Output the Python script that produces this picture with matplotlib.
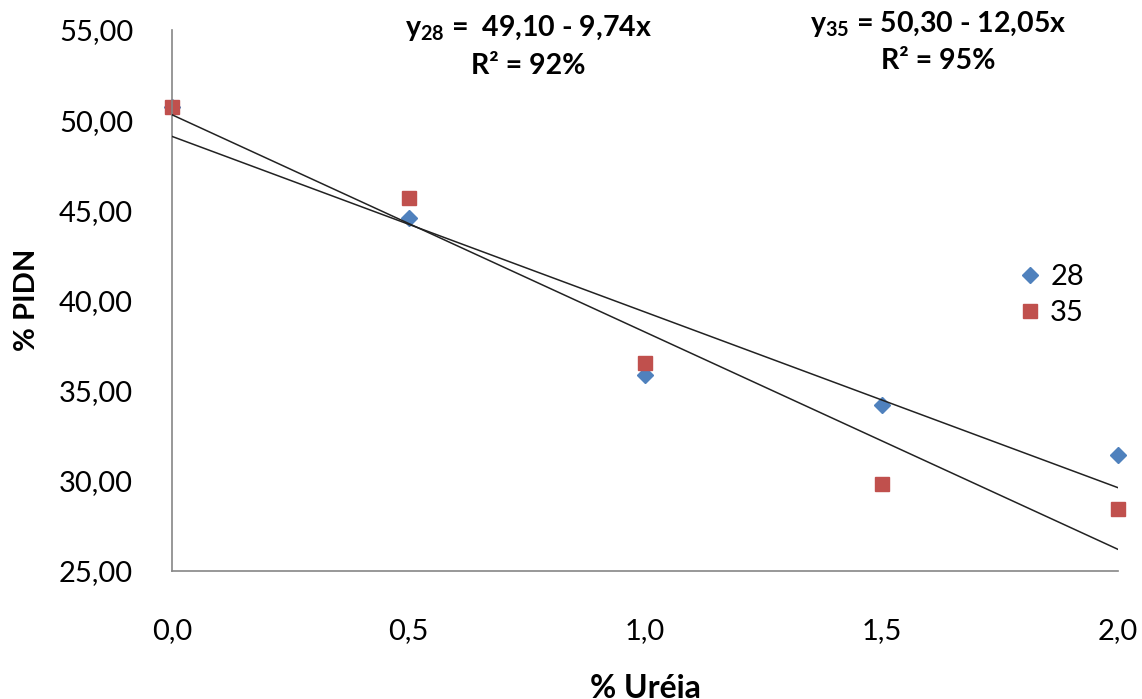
import matplotlib
matplotlib.use("Agg")
import matplotlib.pyplot as plt
import numpy as np

plt.rcParams['font.family'] = ['Lato', 'DejaVu Sans']
plt.rcParams['mathtext.fontset'] = 'custom'
plt.rcParams['mathtext.rm'] = 'Lato'
plt.rcParams['mathtext.bf'] = 'Lato:bold'

# dados
ureia = [0.0, 0.5, 1.0, 1.5, 2.0]
pidn_28 = [50.73, 44.57, 35.87, 34.20, 31.43]
pidn_35 = [50.73, 45.68, 36.53, 29.82, 28.43]

# retas ajustadas (y = a + b x)
coef_28 = (49.10, -9.74)
coef_35 = (50.30, -12.05)

y_ticks = [25, 30, 35, 40, 45, 50, 55]
x_ticks = [0.0, 0.5, 1.0, 1.5, 2.0]

W, H = 1142, 699
fig = plt.figure(figsize=(W / 100, H / 100), dpi=100)
ax = fig.add_axes([172 / W, 1 - 571 / H, (1118 - 172) / W, (571 - 30) / H])

azul = '#4F81BD'
vermelho = '#C0504D'

ax.plot(ureia, pidn_28, 'D', color=azul, markersize=8, label='28', zorder=2,
        linestyle='none', clip_on=False)
ax.plot(ureia, pidn_35, 's', color=vermelho, markersize=10.5, label='35', zorder=2,
        linestyle='none', clip_on=False)

xx = np.array([0.0, 2.0])
ax.plot(xx, coef_28[0] + coef_28[1] * xx, color='#222222', lw=1.1, zorder=3)
ax.plot(xx, coef_35[0] + coef_35[1] * xx, color='#222222', lw=1.1, zorder=3)

ax.set_xlim(0, 2)
ax.set_ylim(25, 55)
ax.set_yticks(y_ticks)
ax.set_yticklabels([f"{v:.2f}".replace('.', ',') for v in y_ticks])
ax.set_xticks(x_ticks)
ax.set_xticklabels([f"{v:.1f}".replace('.', ',') for v in x_ticks])
ax.tick_params(axis='both', length=0, labelsize=21, colors='black')
ax.tick_params(axis='y', pad=28)
ax.tick_params(axis='x', pad=34)

for s in ['top', 'right']:
    ax.spines[s].set_visible(False)
for s in ['left', 'bottom']:
    ax.spines[s].set_color('#868686')
    ax.spines[s].set_linewidth(1.2)
ax.patch.set_alpha(0)

leg = ax.legend(loc='center left', bbox_to_anchor=(0.862, 0.51), frameon=False,
                fontsize=21, handletextpad=0.15, labelspacing=0.35, handlelength=1.1)

fig.text(528 / W, 1 - 28 / H, r"$\mathbf{y}_{\mathbf{28}}$ =  49,10 - 9,74x", ha='center', va='center',
         fontsize=20.5, fontweight='bold')
fig.text(528 / W, 1 - 66 / H, "R² = 92%", ha='center', va='center', fontsize=20.5, fontweight='bold')
fig.text(938 / W, 1 - 24 / H, r"$\mathbf{y}_{\mathbf{35}}$ = 50,30 - 12,05x", ha='center', va='center',
         fontsize=20.5, fontweight='bold')
fig.text(938 / W, 1 - 61 / H, "R² = 95%", ha='center', va='center', fontsize=20.5, fontweight='bold')

fig.text(645 / W, 1 - 688 / H, "% Uréia", ha='center', va='center', fontsize=23, fontweight='bold')
fig.text(27 / W, 1 - 300 / H, "% PIDN", ha='center', va='center', fontsize=21, fontweight='bold',
         rotation=90)

fig.savefig("out.png", dpi=100)
